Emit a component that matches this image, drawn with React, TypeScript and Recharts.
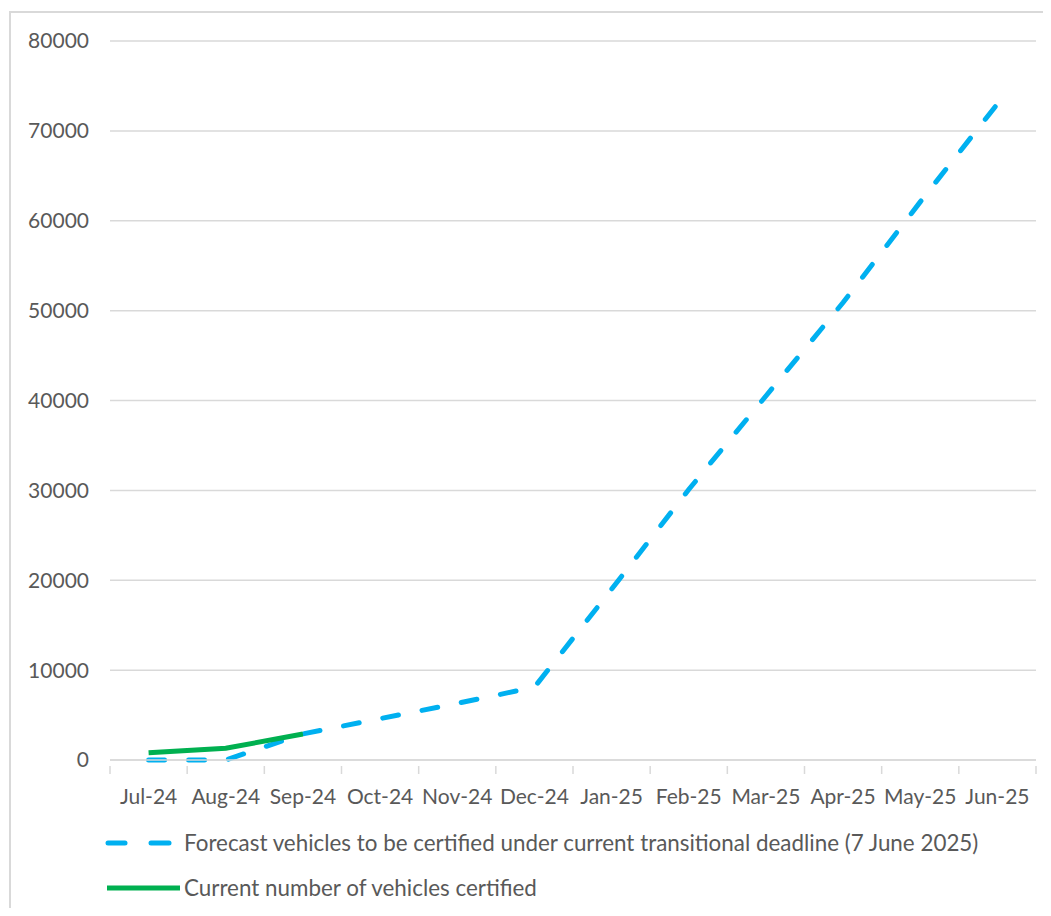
import React from "react";
import { LineChart, Line, XAxis, YAxis, CartesianGrid } from "recharts";

const months = ["Jul-24", "Aug-24", "Sep-24", "Oct-24", "Nov-24", "Dec-24", "Jan-25", "Feb-25", "Mar-25", "Apr-25", "May-25", "Jun-25"];
const forecast = [0, 0, 2900, 4600, 6300, 8100, 19000, 30100, 40500, 50900, 62100, 73000];
const current: (number | null)[] = [800, 1300, 2900, null, null, null, null, null, null, null, null, null];
const yTicks = [0, 10000, 20000, 30000, 40000, 50000, 60000, 70000, 80000];

const forecastName = "Forecast vehicles to be certified under current transitional deadline (7 June 2025)";
const currentName = "Current number of vehicles certified";

const data = months.map((m, i) => ({ month: m, forecast: forecast[i], current: current[i] }));

const FONT = "Lato, 'Open Sans', sans-serif";
const TEXT = "#595959";
const GRID = "#d9d9d9";
const BLUE = "#00B0F0";
const GREEN = "#00B050";

const W = 1051;
const H = 916;
const M = { top: 41, right: 15, left: 0, bottom: 116 };
const YW = 110;
const plotW = W - M.left - M.right - YW;
const band = plotW / months.length;

const XTick = (props: any) => {
  const { x, y, payload, index } = props;
  const half = band / 2;
  const axisY = y;
  return (
    <g>
      <line x1={x - half} x2={x - half} y1={axisY} y2={axisY + 8} stroke={GRID} strokeWidth={1.5} />
      {index === months.length - 1 && (
        <line x1={x + half} x2={x + half} y1={axisY} y2={axisY + 8} stroke={GRID} strokeWidth={1.5} />
      )}
      <text x={x} y={axisY + 38} textAnchor="middle" fill={TEXT} fontSize={21} fontFamily={FONT}>
        {payload.value}
      </text>
    </g>
  );
};

export default function App() {
  return (
    <div style={{ position: "relative", margin: -8, width: W, height: H, background: "#fff", overflow: "hidden" }}>
      <div style={{ position: "absolute", left: 9, top: 11, width: W + 20, height: H + 20, border: `2px solid ${GRID}`, boxSizing: "border-box" }} />
      <div style={{ position: "absolute", left: 0, top: 0 }}>
        <LineChart width={W} height={H} data={data} margin={M}>
          <CartesianGrid vertical={false} stroke={GRID} strokeWidth={1.5} />
          <XAxis
            dataKey="month"
            scale="band"
            stroke={GRID}
            strokeWidth={1.5}
            tickLine={false}
            tick={<XTick />}
            interval={0}
            height={40}
            tickMargin={0}
          />
          <YAxis
            width={YW}
            domain={[0, 80000]}
            ticks={yTicks}
            axisLine={false}
            tickLine={false}
            tickMargin={15}
            tick={{ fill: TEXT, fontSize: 21, fontFamily: FONT }}
          />
          <Line
            type="linear"
            dataKey="forecast"
            name={forecastName}
            stroke={BLUE}
            strokeWidth={5}
            strokeDasharray="16 24"
            strokeLinecap="round"
            dot={false}
            isAnimationActive={false}
          />
          <Line
            type="linear"
            dataKey="current"
            name={currentName}
            stroke={GREEN}
            strokeWidth={5}
            dot={false}
            connectNulls={false}
            isAnimationActive={false}
          />
        </LineChart>
      </div>
      <svg width={W} height={80} style={{ position: "absolute", left: 0, top: 831, display: "block" }}>
        <line x1={108} x2={125} y1={12} y2={12} stroke={BLUE} strokeWidth={5} strokeLinecap="round" />
        <line x1={151} x2={169} y1={12} y2={12} stroke={BLUE} strokeWidth={5} strokeLinecap="round" />
        <text x={184} y={20} fill={TEXT} fontSize={22.4} fontFamily={FONT}>{forecastName}</text>
        <line x1={107} x2={180} y1={57} y2={57} stroke={GREEN} strokeWidth={5} />
        <text x={184} y={65} fill={TEXT} fontSize={22.4} fontFamily={FONT}>{currentName}</text>
      </svg>
    </div>
  );
}
